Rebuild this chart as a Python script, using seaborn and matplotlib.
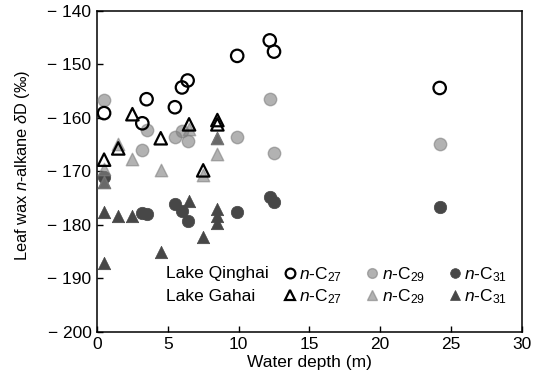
import numpy as np
import pandas as pd
import seaborn as sns
import matplotlib
matplotlib.use("Agg")
import matplotlib.pyplot as plt
from matplotlib.lines import Line2D
from matplotlib.ticker import FuncFormatter

# Lake Qinghai samples (water depth, m) and dD of n-alkanes (permil)
qinghai_depth = [0.5, 3.2, 3.5, 5.5, 6.0, 6.4, 9.9, 12.2, 12.5, 24.2]
qinghai_c27 = [-159.1, -161.0, -156.5, -158.0, -154.3, -153.0, -148.4, -145.5, -147.6, -154.4]
qinghai_c29 = [-156.7, -166.0, -162.3, -163.6, -162.5, -164.4, -163.6, -156.5, -166.5, -164.9]
qinghai_c31 = [-171.0, -177.7, -178.0, -176.1, -177.4, -179.2, -177.6, -174.8, -175.8, -176.6]

# Lake Gahai samples
gahai_c27_depth = [0.5, 1.5, 2.5, 4.5, 6.5, 7.5, 8.5, 8.5]
gahai_c27 = [-167.8, -165.7, -159.3, -163.8, -161.2, -169.8, -160.4, -161.2]
gahai_c29_depth = [0.5, 0.5, 1.5, 2.5, 4.5, 6.5, 7.5, 8.5, 8.5]
gahai_c29 = [-169.5, -172.0, -164.8, -167.6, -169.8, -162.0, -170.7, -163.8, -166.7]
gahai_c31_depth = [0.5, 0.5, 0.5, 1.5, 2.5, 4.5, 6.5, 7.5, 8.5, 8.5, 8.5, 8.5]
gahai_c31 = [-172.0, -177.6, -187.2, -178.3, -178.3, -185.0, -175.5, -182.2,
             -163.8, -177.0, -178.4, -179.7]

lake_names = ["Lake Qinghai", "Lake Gahai"]
chain_labels = ["$n$-C$_{27}$", "$n$-C$_{29}$", "$n$-C$_{31}$"]

sns.set_style("ticks")
plt.rcParams['font.family'] = ['Liberation Sans', 'DejaVu Sans']
plt.rcParams['mathtext.fontset'] = 'custom'
plt.rcParams['mathtext.rm'] = 'Liberation Sans'
plt.rcParams['mathtext.it'] = 'Liberation Sans:italic'
for key in ['text.color', 'axes.labelcolor', 'xtick.color', 'ytick.color']:
    plt.rcParams[key] = 'black'

rows = []
for d, c27, c29, c31 in zip(qinghai_depth, qinghai_c27, qinghai_c29, qinghai_c31):
    rows += [("Qinghai", "C27", d, c27), ("Qinghai", "C29", d, c29), ("Qinghai", "C31", d, c31)]
rows += [("Gahai", "C27", d, v) for d, v in zip(gahai_c27_depth, gahai_c27)]
rows += [("Gahai", "C29", d, v) for d, v in zip(gahai_c29_depth, gahai_c29)]
rows += [("Gahai", "C31", d, v) for d, v in zip(gahai_c31_depth, gahai_c31)]
df = pd.DataFrame(rows, columns=["lake", "chain", "depth", "dD"])

dark = "#474747"
grey = "#808080"
styles = {
    "C31": dict(color=dark, edgecolor=dark, alpha=1.0, linewidth=0.5),
    "C29": dict(color=grey, edgecolor=grey, alpha=0.6, linewidth=1.0),
    "C27": dict(color="none", edgecolor="black", alpha=1.0, linewidth=1.6),
}
markers = {"Qinghai": "o", "Gahai": "^"}
FS = 12.5

fig = plt.figure(figsize=(5.33, 3.78), dpi=100)
ax = fig.add_axes([0.182, 0.122, 0.797, 0.849])

for chain in ["C31", "C29", "C27"]:
    for lake in ["Qinghai", "Gahai"]:
        sub = df[(df.lake == lake) & (df.chain == chain)]
        sns.scatterplot(data=sub, x="depth", y="dD", ax=ax, marker=markers[lake],
                        s=80, zorder=3, **styles[chain])

ax.set_xlim(0, 30)
ax.set_ylim(-200, -140)
ax.set_xticks(np.arange(0, 31, 5))
ax.set_yticks(np.arange(-200, -139, 10))
ax.yaxis.set_major_formatter(FuncFormatter(lambda v, p: f"\u2212 {abs(v):.0f}"))
ax.tick_params(direction="in", length=4, width=1, labelsize=FS, top=False, right=False,
               pad=4, colors="black")
for sp in ax.spines.values():
    sp.set_visible(True)
    sp.set_linewidth(1.1)
    sp.set_color("black")

ax.set_xlabel("Water depth (m)", fontsize=FS, labelpad=2)
ax.set_ylabel("Leaf wax $n$-alkane $\\delta$D (‰)", fontsize=11.8)
ax.yaxis.set_label_coords(-0.152, 0.52)

# legend: row names as text, markers in a 3-column legend
for i, name in enumerate(lake_names):
    ax.text(0.162, 0.182 - i * 0.072, name, transform=ax.transAxes,
            fontsize=FS, va="center", ha="left")

def handle(lake, chain):
    st = styles[chain]
    return Line2D([], [], linestyle="none", marker=markers[lake], markersize=7,
                  markerfacecolor=st["color"], markeredgecolor=st["edgecolor"],
                  markeredgewidth=st["linewidth"], alpha=st["alpha"])

handles, labels = [], []
for chain, lab in zip(["C27", "C29", "C31"], chain_labels):
    for lake in ["Qinghai", "Gahai"]:
        handles.append(handle(lake, chain))
        labels.append(lab)
ax.legend(handles, labels, ncol=3, loc="center left", bbox_to_anchor=(0.417, 0.144),
          frameon=False, fontsize=FS, handlelength=0.8, handletextpad=0.15,
          columnspacing=1.32, labelspacing=0.2, borderpad=0, labelcolor="black")

fig.savefig("out.png", dpi=100)
